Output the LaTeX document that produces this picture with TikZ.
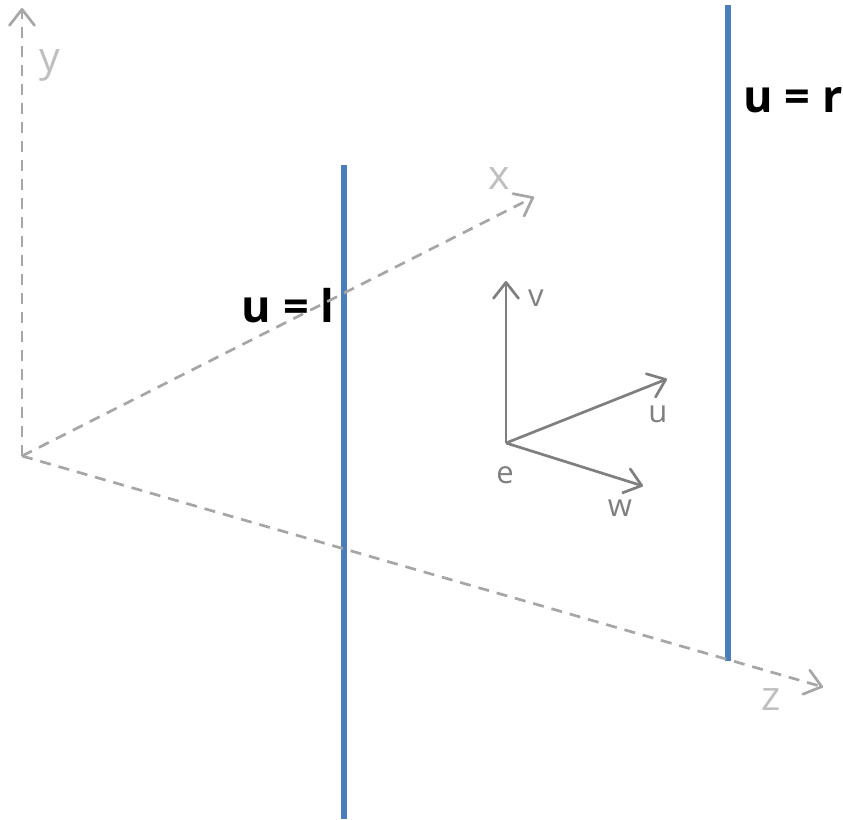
\documentclass[tikz,border=0pt]{standalone}
\usepackage{fontspec}
\setmainfont{Open Sans}
\usetikzlibrary{arrows.meta}
\definecolor{bluel}{HTML}{4A7EBB}
\definecolor{axisc}{HTML}{A6A6A6}
\definecolor{axislabel}{HTML}{BFBFBF}
\definecolor{framec}{HTML}{7F7F7F}
\tikzset{
  px/.style={x=1pt,y=-1pt},
  tipp/.style={-{Straight Barb[length=16pt,width=25pt,line width=2.7pt,round]}},
  axisline/.style={tipp,draw=axisc,line width=2.7pt,dash pattern=on 11pt off 8pt},
  frameline/.style={tipp,draw=framec,line width=2.7pt},
  wall/.style={draw=bluel,line width=6pt},
  axistext/.style={text=axislabel,font=\fontsize{41}{41}\selectfont,inner sep=0pt},
  frametext/.style={text=framec,font=\fontsize{31}{31}\selectfont,inner sep=0pt},
  walltext/.style={text=black,font=\fontsize{45}{45}\selectfont\bfseries,inner sep=0pt}
}
\begin{document}
\begin{tikzpicture}[px]
\useasboundingbox (0,0) rectangle (843,819);
\coordinate (o) at (22,456);
\coordinate (yend) at (22,8);
\coordinate (xend) at (534,197);
\coordinate (zend) at (823,687);
\coordinate (e) at (506,443);
\coordinate (vend) at (506,281);
\coordinate (uend) at (667,379);
\coordinate (wend) at (643,486);
\coordinate (ltop) at (344,165);
\coordinate (lbot) at (344,819);
\coordinate (rtop) at (728,5);
\coordinate (rbot) at (728,661);
\node[walltext] (ul) at (288,306) {u = l};
\node[walltext] (ur) at (793,100) {u = r};
\draw[wall] (ltop) -- (lbot);
\draw[wall] (rtop) -- (rbot);
\draw[axisline] (o) -- (yend);
\draw[axisline] (o) -- (xend);
\draw[axisline] (o) -- (zend);
\draw[frameline] (e) -- (vend);
\draw[frameline] (e) -- (uend);
\draw[frameline] (e) -- (wend);
\node[axistext] (ylab) at (50,65) {y};
\node[axistext] (xlab) at (499,179) {x};
\node[axistext] (zlab) at (771,700) {z};
\node[frametext] (vlab) at (536,298) {v};
\node[frametext] (ulab) at (658,414) {u};
\node[frametext] (elab) at (505,475) {e};
\node[frametext] (wlab) at (620,508) {w};
\end{tikzpicture}
\end{document}
